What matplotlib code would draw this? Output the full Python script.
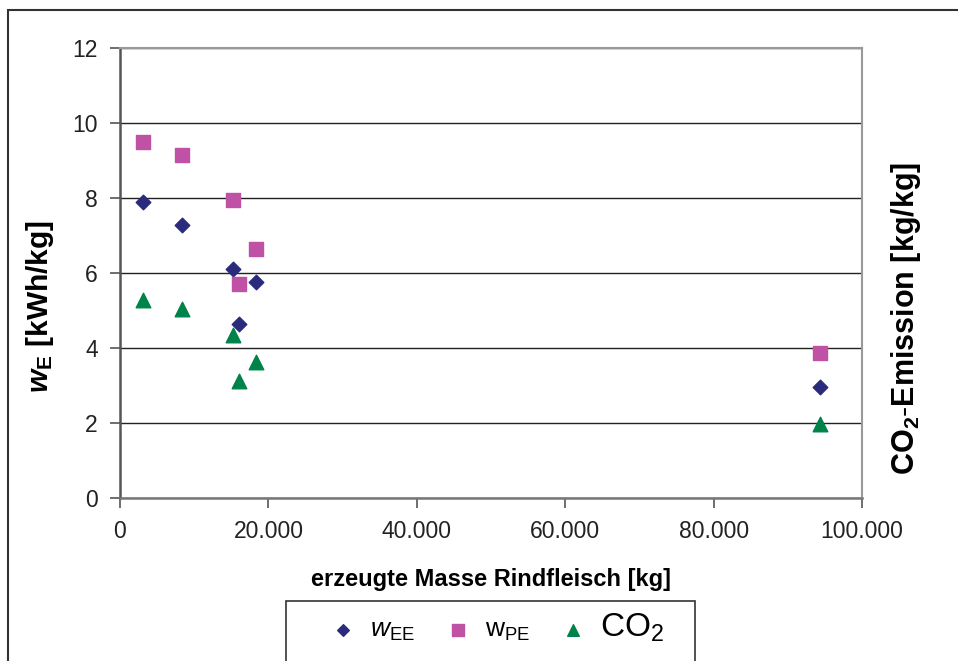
import matplotlib.pyplot as plt
from matplotlib.patches import Rectangle
from matplotlib.ticker import FuncFormatter

plt.rcParams['font.family'] = ['Liberation Sans', 'DejaVu Sans']
plt.rcParams['mathtext.fontset'] = 'custom'
plt.rcParams['mathtext.rm'] = 'Liberation Sans'
plt.rcParams['mathtext.it'] = 'Liberation Sans:italic'
plt.rcParams['mathtext.bf'] = 'Liberation Sans:bold'
plt.rcParams['mathtext.sf'] = 'Liberation Sans:bold:italic'

# erzeugte Masse Rindfleisch [kg]
masse = [3100, 8360, 15230, 16040, 18330, 94340]
w_ee = [7.90, 7.28, 6.12, 4.65, 5.77, 2.96]
w_pe = [9.49, 9.15, 7.95, 5.72, 6.64, 3.87]
co2 = [5.28, 5.04, 4.36, 3.12, 3.63, 1.98]

fig = plt.figure(figsize=(9.58, 6.61), dpi=100)
ax = fig.add_axes([120/958, 163/661, 742/958, 450/661])

ax.set_xlim(0, 100000)
ax.set_ylim(0, 12)
ax.set_yticks(range(0, 13, 2))
ax.set_xticks(range(0, 100001, 20000))
ax.xaxis.set_major_formatter(FuncFormatter(lambda v, p: f'{int(v):,}'.replace(',', '.')))
ax.yaxis.grid(True, color='#222222', lw=1)
ax.set_axisbelow(True)

for s in ['top', 'right']:
    ax.spines[s].set_color('#999999')
    ax.spines[s].set_linewidth(1.5)
ax.spines['left'].set_color('#555555')
ax.spines['left'].set_linewidth(1.8)
ax.spines['bottom'].set_color('#777777')
ax.spines['bottom'].set_linewidth(1.8)
ax.tick_params(axis='both', labelsize=16.5, colors='#555555', labelcolor='#222222', length=7, width=1.2)
ax.tick_params(axis='x', pad=9)
ax.tick_params(axis='y', pad=9)

ax.scatter(masse, w_ee, marker='D', s=55, color='#2B2B7D', zorder=3, label=r'$\mathit{w}_{\mathrm{EE}}$')
ax.scatter(masse, w_pe, marker='s', s=110, color='#C052A6', zorder=3, label=r'$\mathrm{w}_{\mathrm{PE}}$')
ax.scatter(masse, co2, marker='^', s=110, color='#00834A', zorder=3, label=r'$\mathrm{CO}_{2}$')

ax.set_xlabel('erzeugte Masse Rindfleisch [kg]', fontsize=17, fontweight='bold', labelpad=18)
fig.text(40/958, 1 - 307/661, r'$\mathsf{w}_{\mathbf{E}}\mathbf{\ [kWh/kg]}$', rotation=90, fontsize=21.5,
         ha='center', va='center')
fig.text(906/958, 1 - 318/661, r'$\mathbf{CO_{2}{\text{-}}Emission\ [kg/kg]}$', rotation=90, fontsize=22,
         ha='center', va='center')

# outer frame and legend box
fig.patches.append(Rectangle((8/958, -0.2), 1.2, 1.2 - 10/661, transform=fig.transFigure,
                             fill=False, edgecolor='#333333', lw=1.5, clip_on=False))
fig.patches.append(Rectangle((286/958, -0.2), 409/958, 0.2 + 60/661, transform=fig.transFigure,
                             fill=False, edgecolor='#333333', lw=1.2, clip_on=False))
leg = fig.legend(loc='center', bbox_to_anchor=(497/958, 1 - 628/661), ncol=3, frameon=False,
                 fontsize=19, handlelength=1.0, handletextpad=0.5, columnspacing=1.15,
                 markerscale=0.8)
leg.get_texts()[2].set_fontsize(24)

fig.savefig('out.png', dpi=100)
